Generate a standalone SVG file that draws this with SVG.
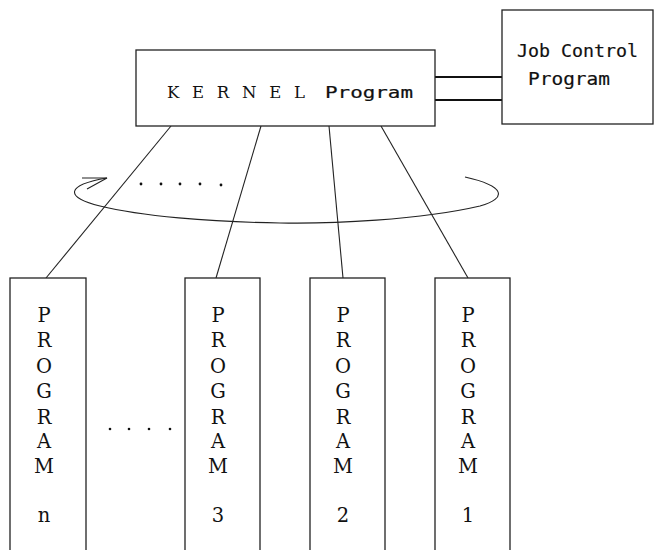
<svg xmlns="http://www.w3.org/2000/svg" width="664" height="550" viewBox="0 0 664 550">
  <style>
    .box { fill: #fff; stroke: #222; stroke-width: 1.3; }
    .link { fill: none; stroke: #222; stroke-width: 1.1; }
    .bus { stroke: #111; stroke-width: 2.2; }
    .dot { fill: #111; }
    .serif { font-family: "DejaVu Serif", "Liberation Serif", serif; fill: #111; }
    .mono { font-family: "DejaVu Sans Mono", "Liberation Mono", monospace; fill: #111; stroke: #111; stroke-width: 0.2; }
    .vert { font-size: 19.5px; text-anchor: middle; }
  </style>
  <rect width="664" height="550" fill="#fff"/>

  <!-- connectors -->
  <g id="connectors">
    <line class="bus" x1="435" y1="77" x2="502" y2="77"/>
    <line class="bus" x1="435" y1="100" x2="502" y2="100"/>
    <line class="link" x1="171" y1="126" x2="46" y2="278"/>
    <line class="link" x1="261" y1="126" x2="216" y2="278"/>
    <line class="link" x1="329" y1="126" x2="343" y2="278"/>
    <line class="link" x1="381" y1="126" x2="468" y2="278"/>
    <!-- round-robin cycle around the program lines -->
    <path class="link" d="M 465 177 C 505 186 508 198 480 206 C 420 220 330 224 280 223 C 210 222 140 216 100 206 C 64 197 66 185 107 178"/>
    <path class="link" d="M 82 178 L 107 178 L 87 189"/>
    <g class="dot">
      <circle cx="141" cy="184" r="1.4"/>
      <circle cx="161" cy="184" r="1.4"/>
      <circle cx="180" cy="184" r="1.4"/>
      <circle cx="200" cy="184" r="1.4"/>
      <circle cx="221" cy="185" r="1.4"/>
    </g>
    <g class="dot">
      <circle cx="110" cy="429" r="1.3"/>
      <circle cx="129" cy="429" r="1.3"/>
      <circle cx="149" cy="429" r="1.3"/>
      <circle cx="170" cy="429" r="1.3"/>
    </g>
  </g>

  <g id="kernel">
    <rect class="box" x="136" y="50" width="299" height="76"/>
    <text class="serif" x="167" y="98" font-size="16.5" textLength="138" lengthAdjust="spacing">K E R N E L</text>
    <text class="mono" x="325" y="98" font-size="15" textLength="88" lengthAdjust="spacingAndGlyphs">Program</text>
  </g>

  <g id="job-control">
    <rect class="box" x="502" y="10" width="151" height="114"/>
    <text class="mono" x="517" y="57" font-size="18" textLength="121" lengthAdjust="spacingAndGlyphs">Job Control</text>
    <text class="mono" x="528" y="85" font-size="18" textLength="82" lengthAdjust="spacingAndGlyphs">Program</text>
  </g>

  <g id="program-n">
    <rect class="box" x="10" y="278" width="76" height="300"/>
    <text class="serif vert" x="44"><tspan x="44" y="322">P</tspan><tspan x="44" y="347">R</tspan><tspan x="44" y="373">O</tspan><tspan x="44" y="398">G</tspan><tspan x="44" y="424">R</tspan><tspan x="44" y="448">A</tspan><tspan x="44" y="473">M</tspan><tspan x="44" y="522">n</tspan></text>
  </g>

  <g id="program-3">
    <rect class="box" x="185" y="278" width="75" height="300"/>
    <text class="serif vert" x="218"><tspan x="218" y="322">P</tspan><tspan x="218" y="347">R</tspan><tspan x="218" y="373">O</tspan><tspan x="218" y="398">G</tspan><tspan x="218" y="424">R</tspan><tspan x="218" y="448">A</tspan><tspan x="218" y="473">M</tspan><tspan x="218" y="522">3</tspan></text>
  </g>

  <g id="program-2">
    <rect class="box" x="310" y="278" width="75" height="300"/>
    <text class="serif vert" x="343"><tspan x="343" y="322">P</tspan><tspan x="343" y="347">R</tspan><tspan x="343" y="373">O</tspan><tspan x="343" y="398">G</tspan><tspan x="343" y="424">R</tspan><tspan x="343" y="448">A</tspan><tspan x="343" y="473">M</tspan><tspan x="343" y="522">2</tspan></text>
  </g>

  <g id="program-1">
    <rect class="box" x="435" y="278" width="75" height="300"/>
    <text class="serif vert" x="468"><tspan x="468" y="322">P</tspan><tspan x="468" y="347">R</tspan><tspan x="468" y="373">O</tspan><tspan x="468" y="398">G</tspan><tspan x="468" y="424">R</tspan><tspan x="468" y="448">A</tspan><tspan x="468" y="473">M</tspan><tspan x="468" y="522">1</tspan></text>
  </g>
</svg>
